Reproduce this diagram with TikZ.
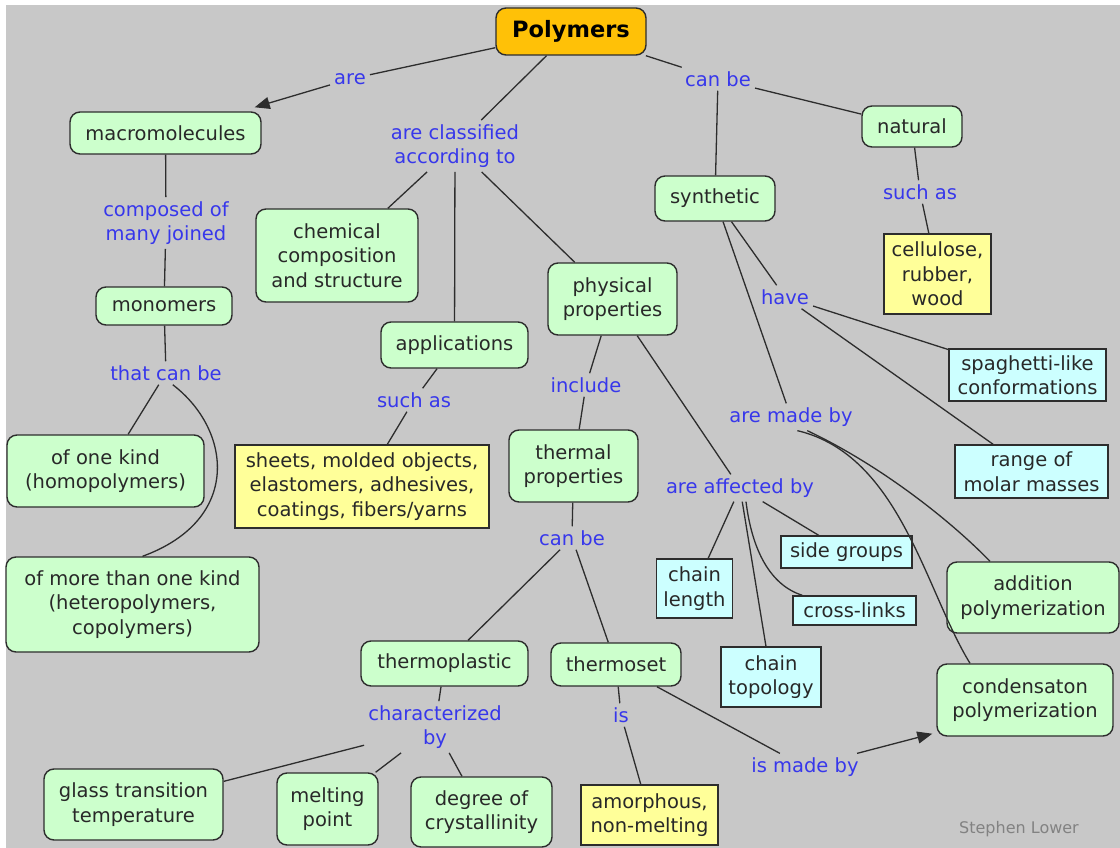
\documentclass[tikz,border=0pt]{standalone}
\usepackage{fontspec}
\setmainfont{DejaVu Sans}
\usetikzlibrary{arrows.meta}
\definecolor{bggray}{RGB}{200,200,200}
\definecolor{cgreen}{RGB}{204,255,204}
\definecolor{cyellow}{RGB}{255,255,153}
\definecolor{ccyan}{RGB}{204,255,255}
\definecolor{corange}{RGB}{255,193,7}
\definecolor{cblue}{RGB}{55,55,235}
\definecolor{ctext}{RGB}{40,40,40}
\definecolor{cline}{RGB}{45,45,45}
\definecolor{csig}{RGB}{130,130,130}
\newcommand\msz{\fontsize{19.5}{24.5}\selectfont}
\begin{document}
\begin{tikzpicture}[x=1pt,y=-1pt,
  box/.style={draw=cline, line width=1.4pt, inner sep=0pt, align=center, text=ctext, font=\msz},
  gbox/.style={box, fill=cgreen, rounded corners=10pt},
  ybox/.style={box, fill=cyellow},
  cbox/.style={box, fill=ccyan},
  sz/.style 2 args={minimum width=#1pt, minimum height=#2pt},
  lab/.style={text=cblue, align=center, font=\msz, inner sep=4pt},
  conn/.style={draw=cline, line width=1.3pt},
  arr/.style={conn, -{Triangle[length=15pt,width=12pt]}},
]
\useasboundingbox (0,0) rectangle (1120,848);
\fill[white] (0,0) rectangle (1120,848);
\fill[bggray] (6,5) rectangle (1120,848);

% concept nodes
\node[box, fill=corange, rounded corners=10pt, sz={150}{47}, font=\fontsize{22.5}{26}\selectfont\bfseries, text=black] (poly) at (571,31.5) {Polymers};
\node[gbox, sz={191}{42}] (mac) at (165.5,133) {macromolecules};
\node[gbox, sz={100}{41}] (nat) at (912,126.5) {natural};
\node[gbox, sz={120}{45}] (syn) at (715,198.5) {synthetic};
\node[ybox, sz={107}{80}] (cell) at (937.5,274) {cellulose,\\ rubber,\\ wood};
\node[gbox, sz={162}{93}] (chem) at (337,255.5) {chemical\\ composition\\ and structure};
\node[gbox, sz={129}{72}] (phys) at (612.5,299) {physical\\ properties};
\node[gbox, sz={147}{46}] (app) at (454.5,345) {applications};
\node[gbox, sz={136}{38}] (mono) at (164,306) {monomers};
\node[gbox, sz={197}{72}] (one) at (105.5,471) {of one kind\\ (homopolymers)};
\node[gbox, sz={253}{95}] (more) at (132.5,604.5) {of more than one kind\\ (heteropolymers,\\ copolymers)};
\node[ybox, sz={254}{83}] (sheets) at (362,486.5) {sheets, molded objects,\\ elastomers, adhesives,\\ coatings, fibers/yarns};
\node[gbox, sz={129}{72}] (therm) at (573.5,466) {thermal\\ properties};
\node[cbox, sz={157}{52}] (spag) at (1027.5,375) {spaghetti-like\\ conformations};
\node[cbox, sz={153}{53}] (range) at (1031.5,471.5) {range of\\ molar masses};
\node[cbox, sz={131}{32}] (side) at (846.5,552) {side groups};
\node[cbox, sz={76}{59}] (clen) at (694.5,588.5) {chain\\ length};
\node[cbox, sz={123}{29}] (xl) at (854.5,610.5) {cross-links};
\node[cbox, sz={100}{60}] (ctop) at (771,677) {chain\\ topology};
\node[gbox, sz={172}{71}] (add) at (1033,597.5) {addition\\ polymerization};
\node[gbox, sz={176}{72}] (cond) at (1025,700) {condensaton\\ polymerization};
\node[gbox, sz={167}{45}] (tplast) at (444.5,663.5) {thermoplastic};
\node[gbox, sz={130}{43}] (tset) at (616,664.5) {thermoset};
\node[gbox, sz={179}{71}] (glass) at (133.5,804.5) {glass transition\\ temperature};
\node[gbox, sz={101}{72}] (melt) at (327.5,809) {melting\\ point};
\node[gbox, sz={141}{70}] (deg) at (481.5,812) {degree of\\ crystallinity};
\node[ybox, sz={137}{60}] (amor) at (649.5,815) {amorphous,\\ non-melting};

% linking phrases
\node[lab] (are) at (350,79) {are};
\node[lab] (cls) at (455,146) {are classified\\ according to};
\node[lab] (canbe) at (718,79) {can be};
\node[lab] (comp) at (166,223) {composed of\\ many joined};
\node[lab] (such1) at (920,192) {such as};
\node[lab] (have) at (785,297) {have};
\node[lab] (tcb) at (166,373) {that can be};
\node[lab] (such2) at (414,400) {such as};
\node[lab] (incl) at (586,385) {include};
\node[lab] (made) at (791,417) {are made by};
\node[lab] (aff) at (740,488) {are affected by};
\node[lab] (canbe2) at (572,538) {can be};
\node[lab] (char) at (435,727) {characterized\\ by};
\node[lab] (is) at (621,715) {is};
\node[lab] (ismade) at (805,767) {is made by};

\node[text=csig, font=\fontsize{16}{19}\selectfont, inner sep=0pt] (sig) at (1019,829) {Stephen Lower};

% connectors
\draw[conn] (poly) -- (are);
\draw[arr] (are) -- ([xshift=-7pt,yshift=4pt]mac.north east);
\draw[conn] (poly) -- (cls);
\draw[conn] (poly) -- (canbe);
\draw[conn] (canbe) -- (nat);
\draw[conn] (canbe) -- (syn);
\draw[conn] (nat) -- (such1);
\draw[conn] (such1) -- (cell);
\draw[conn] (mac) -- (comp);
\draw[conn] (comp) -- (mono);
\draw[conn] (cls) -- (chem);
\draw[conn] (cls) -- (app);
\draw[conn] (cls) -- (phys);
\draw[conn] (mono) -- (tcb);
\draw[conn] (tcb) -- (one);
\draw[conn] (tcb.-60) .. controls (232,430) and (242,520) .. ([xshift=10pt]more.north);
\draw[conn] (app) -- (such2);
\draw[conn] (such2) -- (sheets);
\draw[conn] (syn) -- (have);
\draw[conn] (syn) -- (made);
\draw[conn] (have) -- (spag);
\draw[conn] (have) -- (range);
\draw[conn] (phys) -- (incl);
\draw[conn] (incl) -- (therm);
\draw[conn] (phys) -- (aff);
\draw[conn] (made.-40) .. controls (880,465) and (950,520) .. ([xshift=-43pt]add.north);
\draw[conn] (made.-65) .. controls (900,455) and (925,590) .. ([xshift=-55pt]cond.north);
\draw[conn] (aff) -- (clen);
\draw[conn] (aff) -- (ctop);
\draw[conn] (aff) -- (side);
\draw[conn] ([xshift=6pt]aff.south) .. controls (752,550) and (770,585) .. ([xshift=10pt]xl.north west);
\draw[conn] (therm) -- (canbe2);
\draw[conn] (canbe2) -- (tplast);
\draw[conn] (canbe2) -- (tset);
\draw[conn] (tplast) -- (char);
\draw[conn] (char) -- (glass);
\draw[conn] (char) -- (melt);
\draw[conn] (char) -- (deg);
\draw[conn] (tset) -- (is);
\draw[conn] (is) -- (amor);
\draw[conn] (tset) -- (ismade);
\draw[arr] (ismade) -- ([xshift=-4pt,yshift=3pt]cond.south west);
\end{tikzpicture}
\end{document}
